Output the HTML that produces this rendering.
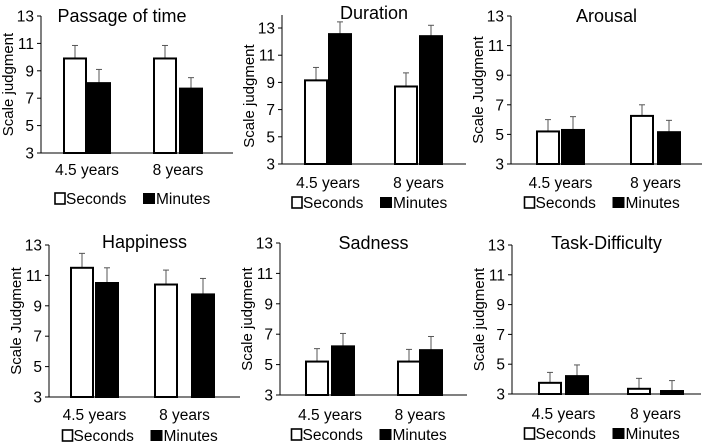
<!DOCTYPE html>
<html><head><meta charset="utf-8"><style>
html,body{margin:0;padding:0;background:#fff;}
svg{display:block;font-family:"Liberation Sans",Arial,sans-serif;}
</style></head><body>
<svg id="fig" width="708" height="443" viewBox="0 0 708 443"></svg>
<script>
const titles = ["Passage of time","Duration","Arousal","Happiness","Sadness","Task-Difficulty"];
const yLabels = ["Scale judgment","Scale judgment","Scale Judgment","Scale Judgment","Scale judgment","Scale judgment"];
const categories = ["4.5 years","8 years"];
const yTicks = [3,5,7,9,11,13];
const secondsVals = [[9.9,9.9],[9.15,8.7],[5.2,6.25],[11.5,10.4],[5.2,5.2],[3.75,3.35]];
const minutesVals = [[8.1,7.7],[12.55,12.4],[5.3,5.15],[10.5,9.75],[6.2,5.95],[4.2,3.2]];
const secondsErr = [[0.95,0.95],[0.95,1.0],[0.8,0.75],[0.95,0.95],[0.85,0.8],[0.7,0.7]];
const minutesErr = [[1.0,0.8],[0.9,0.8],[0.9,0.8],[1.0,1.05],[0.85,0.9],[0.75,0.7]];

const layout = [
 {ax:41,y13:16,y3:153,end:233,cy:175,ly:204,ty:22,g:[[64,88],[154,180]]},
 {ax:282,y13:28,y3:164,end:466,cy:188,ly:208,ty:19,g:[[305,329],[395,420]]},
 {ax:511,y13:16,y3:164,end:702,cy:188,ly:208,ty:22,g:[[537,562],[631,658]]},
 {ax:49,y13:245,y3:397,end:240,cy:420,ly:441,ty:248,g:[[71,96],[155,192]]},
 {ax:280,y13:243,y3:395,end:467,cy:420,ly:440,ty:249,g:[[306,332],[398,420]]},
 {ax:512,y13:245,y3:394,end:701,cy:419,ly:439,ty:249,g:[[539,566],[628,661]]}
];
const NS="http://www.w3.org/2000/svg";
const svg=document.getElementById('fig');
function mk(tag,attrs,parent,text){const e=document.createElementNS(NS,tag);for(const k in attrs)e.setAttribute(k,attrs[k]);if(text!==undefined)e.textContent=text;parent.appendChild(e);return e;}
for(let p=0;p<6;p++){
  const L=layout[p];
  const y=v=>L.y3-(v-3)*(L.y3-L.y13)/10;
  const g=mk('g',{},svg);
  
  
  const t=mk('text',{x:(L.ax+L.end)/2-(p==0?15:0),y:L.ty,'font-size':18,'text-anchor':'middle'},g,titles[p]);
  
  
  const yl=mk('text',{transform:`translate(${L.ax-28},${(L.y13+L.y3)/2}) rotate(-90)`,'font-size':15,'text-anchor':'middle'},g,yLabels[p]);
  
  
  const ya=mk('line',{x1:L.ax,y1:(p==1?15:L.y13),x2:L.ax,y2:L.y3,stroke:'#000','stroke-width':1},g);
  
  
  const xa=mk('line',{x1:L.ax,y1:L.y3,x2:L.end,y2:L.y3,stroke:'#000','stroke-width':1},g);
  
  
  yTicks.forEach(v=>{
    mk('line',{x1:L.ax-4,y1:y(v),x2:L.ax,y2:y(v),stroke:'#000'},g);
    const tl=mk('text',{x:L.ax-7,y:y(v)+5.5,'font-size':15.5,'text-anchor':'end'},g,String(v));
    
    
  });
  categories.forEach((c,i)=>{
    const [sx,mx]=L.g[i];
    const w=22;
    const bars=[[sx,secondsVals[p][i],secondsErr[p][i],'#fff','seconds'],[mx,minutesVals[p][i],minutesErr[p][i],'#000','minutes']];
    bars.forEach(([bx,v,e,fill,nm])=>{
      mk('line',{x1:bx+w/2,y1:y(v),x2:bx+w/2,y2:y(v+e),stroke:'#555','stroke-width':1},g);
      mk('line',{x1:bx+w/2-3,y1:y(v+e),x2:bx+w/2+3,y2:y(v+e),stroke:'#555','stroke-width':1},g);
      const r=mk('rect',{x:bx,y:y(v),width:w,height:L.y3-y(v),fill:fill,stroke:'#000','stroke-width':2},g);
      
      
    });
    const cl=mk('text',{x:(sx+mx+w)/2,y:L.cy,'font-size':15.5,'text-anchor':'middle'},g,c);
    
    
  });
  const lx=(L.ax+L.end)/2-82;
  const lg=mk('g',{},g);
  
  
  mk('rect',{x:lx,y:L.ly-11,width:10,height:11,fill:'#fff',stroke:'#000','stroke-width':1.6},lg);
  mk('text',{x:lx+11,y:L.ly,'font-size':15.5},lg,'Seconds');
  mk('rect',{x:lx+88,y:L.ly-11,width:12,height:11,fill:'#000'},lg);
  mk('text',{x:lx+101,y:L.ly,'font-size':15.5},lg,'Minutes');
}
</script>
</body></html>
